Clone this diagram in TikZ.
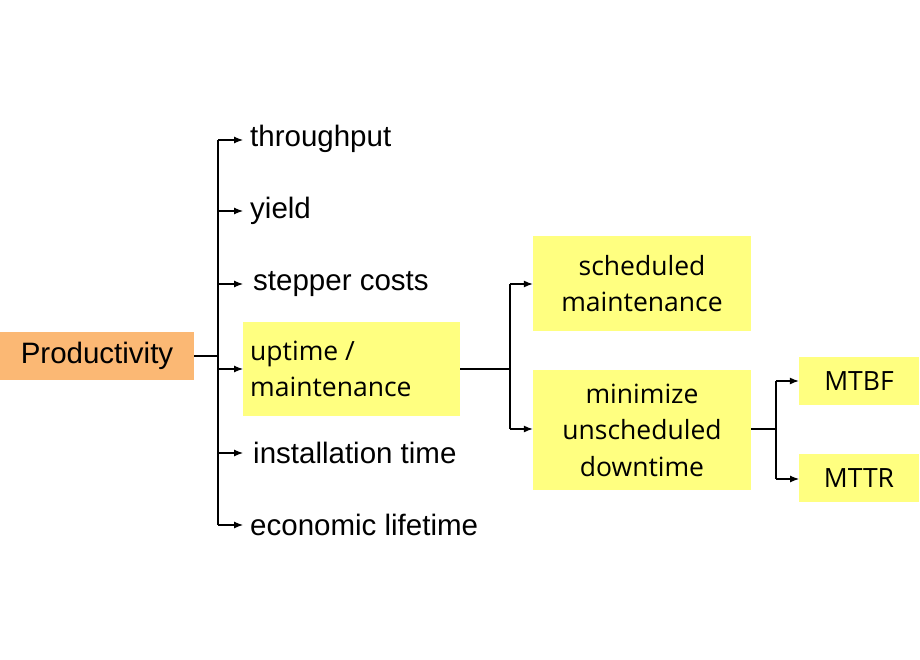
\documentclass[tikz,border=0pt]{standalone}
\usepackage{fontspec}
\setmainfont{Liberation Sans}
\newfontfamily\boxfont{Open Sans}
\usetikzlibrary{arrows.meta}
\definecolor{org}{HTML}{FBB874}
\definecolor{yel}{HTML}{FFFF80}
\begin{document}
\begin{tikzpicture}[x=1pt,y=-1pt,
 lbl/.style={anchor=west,font=\fontsize{29.5}{34}\selectfont,inner sep=0},
 yb/.style={fill=yel,inner sep=0,font=\boxfont\fontsize{26.5}{36.5}\selectfont,align=center},
 ar/.style={-{Latex[length=9pt,width=7pt]},line width=1.1pt},
 ln/.style={line width=1.1pt}]
\useasboundingbox (0,0) rectangle (920,660);
\node[fill=org,minimum width=194pt,minimum height=48pt,inner sep=0,font=\fontsize{29.5}{34}\selectfont] (prod) at (97,356) {Productivity};
\node[yb,minimum width=217pt,minimum height=94pt] (up) at (351.5,369) {};
\node[anchor=west,inner sep=0,font=\boxfont\fontsize{26.5}{36.5}\selectfont,align=left] (uptxt) at (250,369) {uptime /\\maintenance};
\node[yb,minimum width=218pt,minimum height=95pt] (sch) at (642,283.5) {scheduled\\maintenance};
\node[yb,minimum width=218pt,minimum height=120pt] (min) at (642,430) {minimize\\unscheduled\\downtime};
\node[yb,minimum width=120pt,minimum height=48pt] (mtbf) at (859,381) {MTBF};
\node[yb,minimum width=120pt,minimum height=48pt] (mttr) at (859,478) {MTTR};
\node[lbl] (t1) at (250,139) {throughput};
\node[lbl] (t2) at (250,211) {yield};
\node[lbl] (t3) at (253,284) {stepper costs};
\node[lbl] (t5) at (253,453) {installation time};
\node[lbl] (t6) at (250,525) {economic lifetime};
\coordinate (j1) at (218,356);
\draw[ln] (prod.east) -- (j1);
\draw[ln] (218,140) -- (218,525);
\foreach \y in {140,211,284,369,453,525} \draw[ar] (218,\y) -- (243,\y);
\coordinate (j2) at (510,369);
\draw[ln] (up.east) -- (j2);
\draw[ln] (510,284) -- (510,429);
\draw[ar] (510,284) -- (sch.west|-510,284);
\draw[ar] (510,429) -- (min.west|-510,429);
\coordinate (j3) at (776,429);
\draw[ln] (751,429) -- (j3);
\draw[ln] (776,381) -- (776,479);
\draw[ar] (776,381) -- (mtbf.west);
\draw[ar] (776,479) -- (799,479);
\end{tikzpicture}
\end{document}
